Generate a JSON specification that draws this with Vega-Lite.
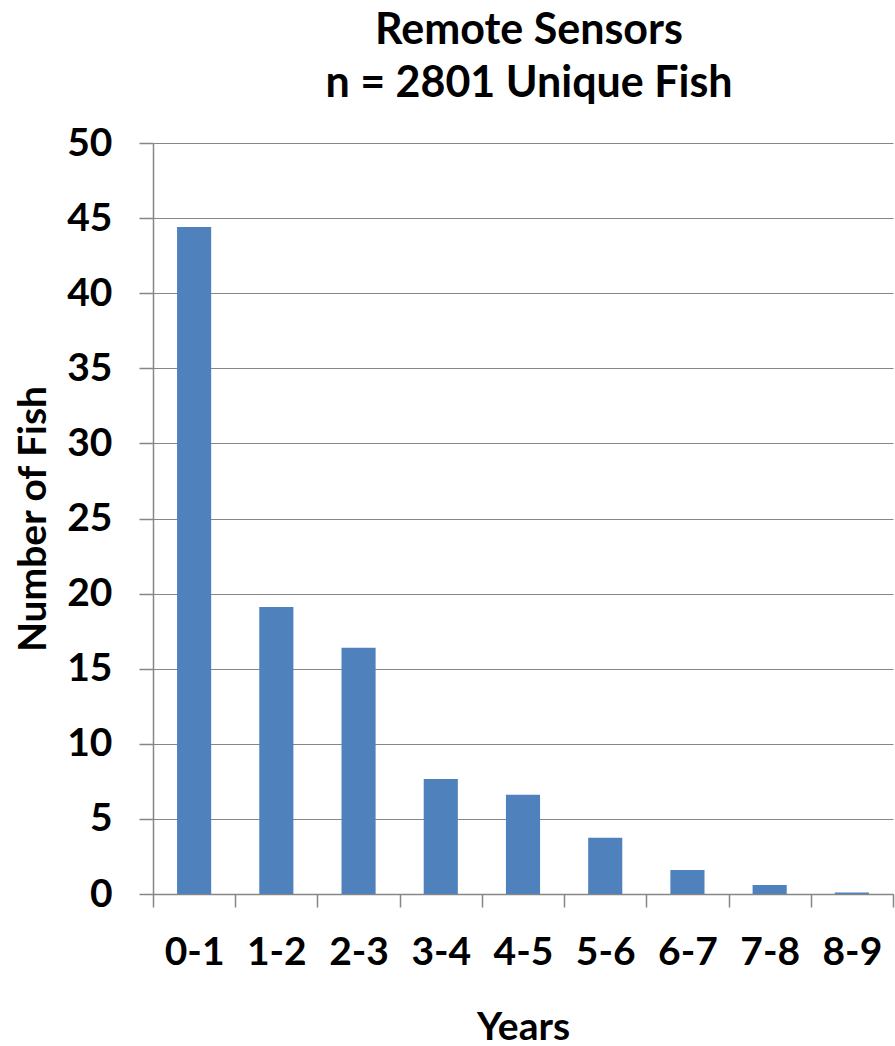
{
  "$schema": "https://vega.github.io/schema/vega-lite/v6.json",
  "width": 740,
  "height": 751,
  "autosize": "none",
  "padding": {"left": 153, "top": 143, "right": 2, "bottom": 152},
  "background": "white",
  "title": {
    "text": ["Remote Sensors", "n = 2801 Unique Fish"],
    "font": "Lato",
    "fontSize": 43,
    "fontWeight": "bold",
    "color": "black",
    "lineHeight": 53,
    "offset": 18,
    "dx": 6,
    "anchor": "middle"
  },
  "config": {
    "view": {"stroke": null},
    "axis": {
      "labelFont": "Lato",
      "labelFontWeight": "bold",
      "labelFontSize": 39,
      "labelColor": "black",
      "titleFont": "Lato",
      "titleFontWeight": "bold",
      "titleFontSize": 39,
      "titleColor": "black",
      "domainColor": "#868686",
      "tickColor": "#868686",
      "gridColor": "#868686",
      "domainWidth": 1.5,
      "tickWidth": 1.5,
      "gridWidth": 1
    }
  },
  "data": {
    "values": [
      {"years": "0-1", "fish": 44.4},
      {"years": "1-2", "fish": 19.1},
      {"years": "2-3", "fish": 16.4},
      {"years": "3-4", "fish": 7.65},
      {"years": "4-5", "fish": 6.6},
      {"years": "5-6", "fish": 3.75},
      {"years": "6-7", "fish": 1.6},
      {"years": "7-8", "fish": 0.6},
      {"years": "8-9", "fish": 0.1}
    ]
  },
  "mark": {"type": "bar", "color": "#4F81BD", "width": {"band": 0.415}},
  "encoding": {
    "x": {
      "field": "years",
      "type": "nominal",
      "sort": null,
      "title": "Years",
      "scale": {"paddingInner": 0, "paddingOuter": 0},
      "axis": {
        "labelAngle": 0,
        "tickBand": "extent",
        "tickSize": 13,
        "labelPadding": 26,
        "titlePadding": 36
      }
    },
    "y": {
      "field": "fish",
      "type": "quantitative",
      "title": "Number of Fish",
      "scale": {"domain": [0, 50]},
      "axis": {
        "values": [0, 5, 10, 15, 20, 25, 30, 35, 40, 45, 50],
        "tickSize": 14,
        "labelPadding": 27,
        "titlePadding": 13,
        "grid": true
      }
    }
  }
}
